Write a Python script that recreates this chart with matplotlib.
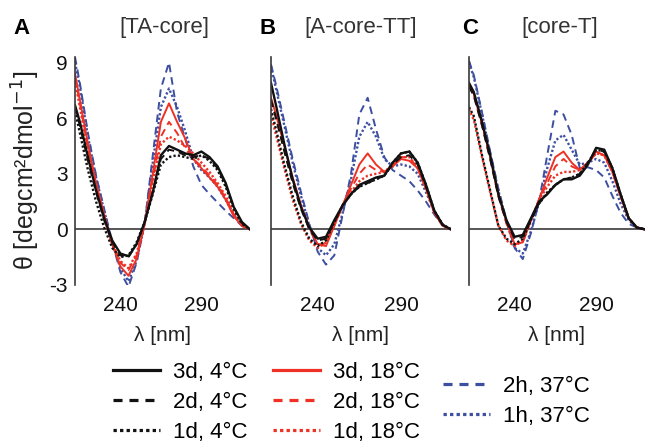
import matplotlib
matplotlib.use("Agg")
import matplotlib.pyplot as plt
from matplotlib.lines import Line2D

plt.rcParams["font.family"] = ["Liberation Sans", "DejaVu Sans"]
plt.rcParams["axes.unicode_minus"] = False
plt.rcParams["lines.scale_dashes"] = False

# wavelength grid (nm)
wl = [212, 215, 220, 225, 230, 235, 240, 245, 250, 255, 260, 265,
      270, 275, 280, 285, 290, 295, 300, 305, 310, 315, 320]

series = ["3d, 4°C", "2d, 4°C", "1d, 4°C",
          "3d, 18°C", "2d, 18°C", "1d, 18°C",
          "2h, 37°C", "1h, 37°C"]

# panel A [TA-core]
ta_core = {
    "3d, 4°C":  [6.7, 5.8, 3.9, 2.1, 0.6, -0.6, -1.3, -1.45, -0.8, 0.4, 2.0, 4.0, 4.5, 4.3, 4.1, 4.0, 4.2, 3.9, 3.4, 2.5, 1.2, 0.4, 0.0],
    "2d, 4°C":  [6.6, 5.6, 3.7, 2.0, 0.5, -0.7, -1.4, -1.5, -0.8, 0.4, 2.0, 3.8, 4.3, 4.2, 4.0, 3.9, 4.0, 3.8, 3.3, 2.4, 1.2, 0.35, 0.0],
    "1d, 4°C":  [6.4, 5.2, 3.2, 1.5, 0.1, -1.0, -1.5, -1.4, -0.7, 0.4, 1.9, 3.5, 3.9, 4.0, 3.9, 3.8, 4.0, 3.7, 3.2, 2.3, 1.1, 0.3, 0.0],
    "3d, 18°C": [8.4, 7.0, 4.6, 2.5, 0.8, -0.8, -2.0, -2.5, -1.6, 0.3, 3.0, 5.8, 6.8, 5.8, 4.9, 3.8, 3.3, 2.8, 2.3, 1.6, 0.7, 0.2, 0.0],
    "2d, 18°C": [8.2, 6.8, 4.4, 2.4, 0.7, -0.8, -1.8, -2.2, -1.4, 0.3, 2.7, 5.0, 5.8, 5.2, 4.4, 3.8, 3.4, 2.9, 2.4, 1.7, 0.8, 0.2, 0.0],
    "1d, 18°C": [8.0, 6.6, 4.2, 2.2, 0.6, -0.8, -1.7, -2.1, -1.3, 0.3, 2.6, 4.6, 5.0, 4.8, 4.5, 4.1, 3.6, 3.1, 2.5, 1.8, 0.9, 0.2, 0.0],
    "2h, 37°C": [9.3, 7.9, 5.2, 2.9, 1.1, -0.7, -2.3, -3.1, -1.8, 0.3, 4.0, 7.6, 9.0, 6.3, 4.9, 3.4, 2.4, 1.9, 1.45, 1.0, 0.6, 0.2, 0.0],
    "1h, 37°C": [9.0, 7.7, 5.0, 2.8, 1.0, -0.7, -2.1, -2.8, -1.7, 0.3, 3.6, 6.6, 7.6, 6.6, 5.3, 3.8, 3.2, 2.8, 2.3, 1.6, 0.8, 0.2, 0.0],
}

# panel B [A-core-TT]
a_core_tt = {
    "3d, 4°C":  [7.9, 6.7, 4.6, 2.7, 1.2, 0.1, -0.5, -0.4, 0.5, 1.3, 1.9, 2.4, 2.6, 2.8, 2.9, 3.6, 4.1, 4.2, 3.6, 2.4, 1.0, 0.25, 0.0],
    "2d, 4°C":  [7.0, 6.0, 4.2, 2.5, 1.1, 0.0, -0.6, -0.5, 0.4, 1.3, 1.9, 2.3, 2.5, 2.7, 2.9, 3.5, 3.9, 4.0, 3.5, 2.3, 1.0, 0.25, 0.0],
    "1d, 4°C":  [6.5, 5.4, 3.5, 1.8, 0.4, -0.5, -0.9, -0.6, 0.4, 1.3, 1.9, 2.3, 2.5, 2.7, 2.9, 3.6, 4.1, 4.2, 3.6, 2.4, 1.0, 0.25, 0.0],
    "3d, 18°C": [7.1, 6.2, 4.5, 2.8, 1.3, 0.1, -0.8, -0.9, 0.2, 1.3, 2.4, 3.5, 4.1, 3.5, 3.1, 3.4, 3.8, 3.7, 3.3, 2.2, 0.9, 0.2, 0.0],
    "2d, 18°C": [7.0, 6.0, 4.3, 2.6, 1.2, 0.0, -0.8, -0.8, 0.2, 1.3, 2.2, 3.0, 3.5, 3.2, 3.1, 3.4, 3.9, 3.9, 3.3, 2.2, 0.9, 0.2, 0.0],
    "1d, 18°C": [6.2, 5.1, 3.3, 1.6, 0.3, -0.6, -1.0, -0.7, 0.3, 1.3, 2.0, 2.6, 2.9, 3.0, 3.1, 3.5, 3.9, 3.9, 3.3, 2.2, 0.9, 0.2, 0.0],
    "2h, 37°C": [8.9, 7.8, 5.8, 3.8, 2.0, 0.3, -1.2, -1.9, -1.4, 0.8, 3.0, 6.2, 7.1, 5.4, 3.9, 3.2, 2.9, 2.6, 2.1, 1.5, 0.8, 0.2, 0.0],
    "1h, 37°C": [8.8, 7.6, 5.6, 3.6, 1.8, 0.2, -1.0, -1.4, -0.8, 0.9, 2.7, 5.0, 5.8, 5.0, 3.8, 3.4, 3.5, 3.4, 3.0, 2.0, 1.0, 0.25, 0.0],
}

# panel C [core-T]
core_t = {
    "3d, 4°C":  [7.9, 7.4, 5.8, 4.0, 1.9, 0.5, -0.4, -0.3, 0.6, 1.5, 1.9, 2.4, 2.7, 2.7, 2.9, 3.5, 4.4, 4.3, 3.3, 1.9, 0.6, 0.1, 0.0],
    "2d, 4°C":  [7.7, 7.2, 5.6, 3.8, 1.8, 0.4, -0.5, -0.4, 0.5, 1.4, 1.9, 2.4, 2.7, 2.8, 3.0, 3.6, 4.3, 4.2, 3.3, 1.9, 0.6, 0.1, 0.0],
    "1d, 4°C":  [6.6, 6.1, 4.0, 2.1, 0.2, -0.5, -0.8, -0.5, 0.5, 1.4, 2.0, 2.4, 2.7, 2.8, 3.0, 3.6, 4.3, 4.2, 3.3, 1.9, 0.6, 0.1, 0.0],
    "3d, 18°C": [7.9, 7.3, 5.7, 3.9, 1.9, 0.4, -0.8, -0.7, 0.5, 1.6, 2.8, 3.9, 4.2, 3.6, 3.2, 3.6, 4.2, 4.0, 3.1, 1.8, 0.6, 0.1, 0.0],
    "2d, 18°C": [7.8, 7.2, 5.6, 3.8, 1.8, 0.3, -0.8, -0.7, 0.5, 1.6, 2.5, 3.4, 3.8, 3.4, 3.2, 3.6, 4.1, 4.0, 3.1, 1.8, 0.6, 0.1, 0.0],
    "1d, 18°C": [6.5, 5.9, 3.9, 2.0, 0.2, -0.6, -0.9, -0.6, 0.5, 1.6, 2.3, 2.9, 3.1, 3.1, 3.2, 3.6, 4.1, 4.0, 3.1, 1.8, 0.6, 0.1, 0.0],
    "2h, 37°C": [9.1, 8.3, 6.3, 4.2, 2.2, 0.5, -1.0, -1.6, -0.2, 1.5, 4.0, 6.4, 6.2, 5.1, 3.3, 3.35, 3.2, 2.8, 1.8, 0.9, 0.3, 0.1, 0.0],
    "1h, 37°C": [9.0, 8.2, 6.2, 4.1, 2.1, 0.4, -1.0, -1.3, -0.1, 1.5, 3.3, 4.8, 5.1, 4.3, 3.5, 3.6, 3.8, 3.6, 2.6, 1.4, 0.5, 0.1, 0.0],
}

panels = [("A", "[TA-core]", ta_core),
          ("B", "[A-core-TT]", a_core_tt),
          ("C", "[core-T]", core_t)]

BLACK, RED, BLUE = "#111111", "#ee3124", "#3d4fa0"
style = {
    "3d, 4°C": (BLACK, "solid"), "2d, 4°C": (BLACK, "dash"), "1d, 4°C": (BLACK, "dot"),
    "3d, 18°C": (RED, "solid"), "2d, 18°C": (RED, "dash"), "1d, 18°C": (RED, "dot"),
    "2h, 37°C": (BLUE, "dash"), "1h, 37°C": (BLUE, "dot"),
}
# dash patterns in points: (plot, legend)
patterns = {"dash": ((5.5, 3.6), (6.5, 5.0)), "dot": ((1.6, 1.6), (2.4, 2.3))}
draw_order = ["2h, 37°C", "1h, 37°C", "3d, 18°C", "2d, 18°C", "1d, 18°C",
              "3d, 4°C", "2d, 4°C", "1d, 4°C"]


def line_kw(name, lw, legend=False):
    color, ls = style[name]
    kw = dict(color=color, lw=lw, label=name)
    if ls != "solid":
        kw["dashes"] = patterns[ls][1 if legend else 0]
        kw["dash_capstyle"] = "butt"
        if ls == "dot" and not legend:
            kw["lw"] = lw + 0.3
    elif color == BLACK and not legend:
        kw["lw"] = lw + 0.3
    return kw


fig = plt.figure(figsize=(6.45, 4.42), dpi=100)
W, H = 645, 442
boxes = [(75, 250), (271, 451), (469, 645)]
top_px, bot_px = 57, 285
for (x0, x1), (letter, title, data) in zip(boxes, panels):
    ax = fig.add_axes([x0 / W, 1 - bot_px / H, (x1 - x0) / W, (bot_px - top_px) / H])
    for name in draw_order:
        ax.plot(wl, data[name], **line_kw(name, 1.4))
    ax.axhline(0, color="#3a3a3a", lw=1.2, zorder=0)
    ax.set_xlim(212, 320)
    ax.set_ylim(-3, 9.3)
    for s in ["top", "right", "bottom"]:
        ax.spines[s].set_visible(False)
    ax.spines["left"].set_color("#3a3a3a")
    ax.spines["left"].set_linewidth(1.2)
    ax.set_xticks([240, 290])
    ax.set_yticks([-3, 0, 3, 6, 9])
    ax.tick_params(length=0, labelsize=15, pad=8, colors="#111111")
    ax.tick_params(axis="y", pad=5)
    if letter != "A":
        ax.set_yticklabels([])
    ax.set_xlabel("λ [nm]", fontsize=15, color="#222222", labelpad=8)

# titles and panel letters
for cx, lx, (letter, title, _) in zip([164, 361, 560], [21, 268, 470], panels):
    fig.text(cx / W, 1 - 28 / H, title, fontsize=16, color="#333333",
             ha="center", va="center")
    fig.text(lx / W, 1 - 28 / H, letter, fontsize=16, fontweight="bold",
             ha="center", va="center")

fig.text(26 / W, 1 - 170 / H, "θ [degcm²dmol$^{-1}$]", rotation=90,
         fontsize=18, color="#222222", ha="center", va="center")

# legend in three groups
groups = [(["3d, 4°C", "2d, 4°C", "1d, 4°C"], 113, 362),
          (["3d, 18°C", "2d, 18°C", "1d, 18°C"], 273, 362),
          (["2h, 37°C", "1h, 37°C"], 443, 376)]
for names, lx, ty in groups:
    handles = [Line2D([], [], **line_kw(n, 2.3, legend=True)) for n in names]
    fig.legend(handles=handles, loc="upper left",
               bbox_to_anchor=(lx / W, 1 - ty / H), frameon=False,
               fontsize=16, handlelength=2.1, handletextpad=0.6,
               labelspacing=0.4, borderpad=0, borderaxespad=0)

fig.savefig("out.png", dpi=100)
